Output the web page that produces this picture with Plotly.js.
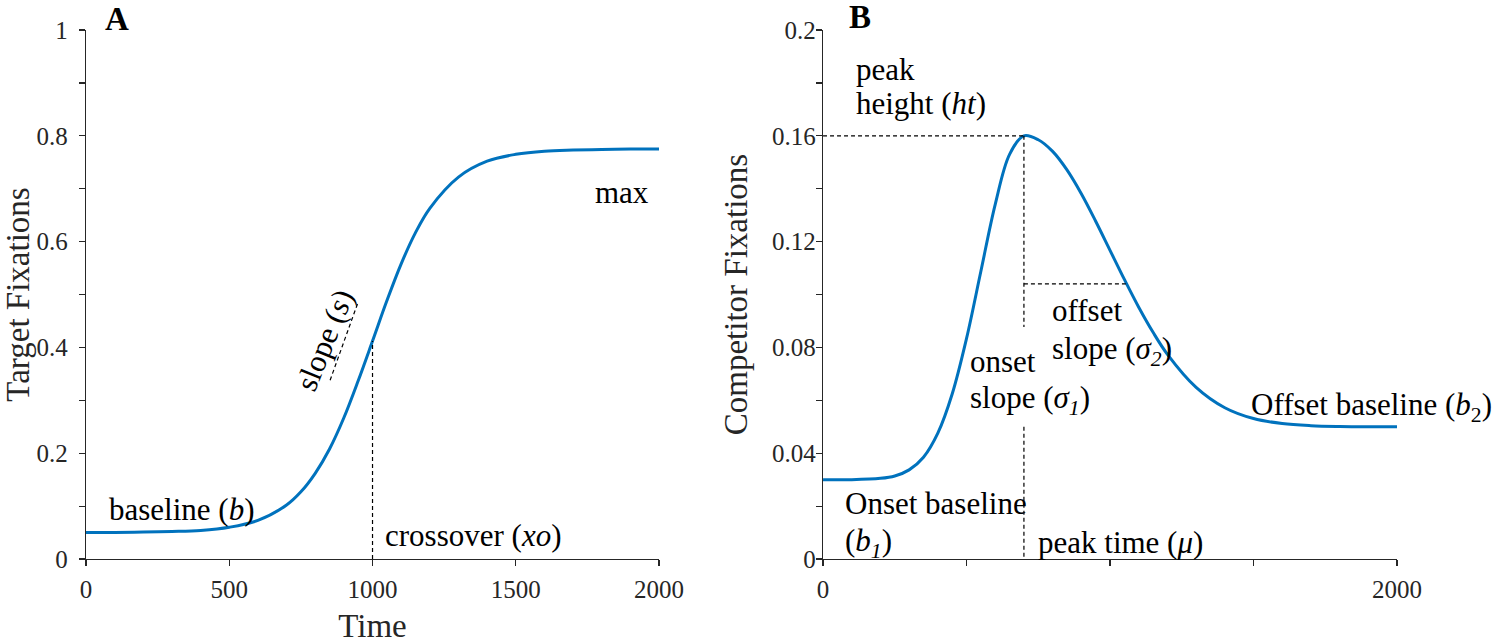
<!DOCTYPE html>
<html>
<head>
<meta charset="utf-8">
<script src="https://cdn.plot.ly/plotly-3.0.1.min.js"></script>
<style>html,body{margin:0;padding:0;background:#fff;}#chart{width:1495px;height:644px;}</style>
</head>
<body>
<div id="chart"></div>
<script>
// Panel A: target fixations (logistic)
var timeA = [0,100,200,300,400,500,600,700,750,800,850,900,950,1000,1050,1100,1150,1200,1300,1400,1500,1600,1700,1800,1900,2000];
var targetFix = [0.050,0.050,0.051,0.052,0.054,0.060,0.073,0.102,0.127,0.162,0.208,0.267,0.337,0.412,0.488,0.558,0.617,0.663,0.722,0.752,0.765,0.771,0.773,0.774,0.775,0.775];

// Panel B: competitor fixations (asymmetric gaussian)
var timeB = [0,100,200,250,300,350,400,450,500,550,600,650,700,750,800,850,900,950,1000,1050,1100,1150,1200,1300,1400,1500,1600,1700,1800,1900,2000];
var compFix = [0.030,0.030,0.0305,0.0314,0.0337,0.0385,0.0476,0.0624,0.0834,0.1088,0.1341,0.153,0.160,0.1585,0.1541,0.1471,0.1381,0.1277,0.1167,0.1057,0.0952,0.0857,0.0774,0.0649,0.0572,0.0531,0.0512,0.0504,0.0501,0.0500,0.0500];

// Reference (dashed) lines
var xoLineX = [1000, 1000], xoLineY = [0, 0.412];
var slopeLineX = [852, 950], slopeLineY = [0.338, 0.486];
var peakHLineX = [0, 700], peakHLineY = [0.16, 0.16];
var peakVLineX = [700, 700, null, 700, 700], peakVLineY = [0.16, 0.0877, null, 0.05, 0];
var offLineX = [700, 1055], offLineY = [0.104, 0.104];

var yTicksA = [0, 0.2, 0.4, 0.6, 0.8, 1];
var yTickTextA = ['0', '0.2', '0.4', '0.6', '0.8', '1'];
var xTicksA = [0, 500, 1000, 1500, 2000];
var xTickTextA = ['0', '500', '1000', '1500', '2000'];
var yTicksB = [0, 0.04, 0.08, 0.12, 0.16, 0.2];
var yTickTextB = ['0', '0.04', '0.08', '0.12', '0.16', '0.2'];
var xTicksB = [0, 2000];
var xTickTextB = ['0', '2000'];
var xMinorB = [500, 1000, 1500];

var blue = '#0072BD';
var ink = '#262626';
var FONT = 'Liberation Serif';
var dashStyle = {color: '#000', width: 1.2, dash: '4px,3px'};

var traces = [
  {x: timeA, y: targetFix, xaxis: 'x', yaxis: 'y', mode: 'lines', line: {color: blue, width: 3, shape: 'spline'}, hoverinfo: 'skip'},
  {x: xoLineX, y: xoLineY, xaxis: 'x', yaxis: 'y', mode: 'lines', line: dashStyle, hoverinfo: 'skip'},
  {x: slopeLineX, y: slopeLineY, xaxis: 'x', yaxis: 'y', mode: 'lines', line: dashStyle, hoverinfo: 'skip'},
  {x: timeB, y: compFix, xaxis: 'x2', yaxis: 'y2', mode: 'lines', line: {color: blue, width: 3, shape: 'spline'}, hoverinfo: 'skip'},
  {x: peakHLineX, y: peakHLineY, xaxis: 'x2', yaxis: 'y2', mode: 'lines', line: dashStyle, hoverinfo: 'skip'},
  {x: peakVLineX, y: peakVLineY, xaxis: 'x2', yaxis: 'y2', mode: 'lines', line: dashStyle, connectgaps: false, hoverinfo: 'skip'},
  {x: offLineX, y: offLineY, xaxis: 'x2', yaxis: 'y2', mode: 'lines', line: dashStyle, hoverinfo: 'skip'}
];

function axisBase() {
  return {
    showgrid: false, zeroline: false, showline: true, linecolor: ink, linewidth: 1.3,
    ticks: 'outside', ticklen: 6, tickwidth: 1.2, tickcolor: ink,
    tickfont: {family: FONT, size: 25, color: ink}, tickmode: 'array', automargin: false, fixedrange: true
  };
}

var xA = Object.assign(axisBase(), {domain: [0, 0.4371], range: [0, 2000], tickvals: xTicksA, ticktext: xTickTextA, anchor: 'y',
  ticklabelstandoff: 2,
  title: {text: 'Time', font: {family: FONT, size: 33, color: ink}, standoff: 13}});
var yA = Object.assign(axisBase(), {domain: [0, 1], range: [0, 1], tickvals: yTicksA, ticktext: yTickTextA, anchor: 'x',
  ticklabelstandoff: 6,
  minor: {tickvals: [0.1, 0.3, 0.5, 0.7, 0.9], ticks: 'outside', ticklen: 6, tickcolor: ink, tickwidth: 1.2},
  title: {text: 'Target Fixations', font: {family: FONT, size: 33, color: ink}, standoff: 22}});
var xB = Object.assign(axisBase(), {domain: [0.5622, 1], range: [0, 2000], tickvals: xTicksB, ticktext: xTickTextB, anchor: 'y2',
  ticklabelstandoff: 2,
  minor: {tickvals: xMinorB, ticks: 'outside', ticklen: 6, tickcolor: ink, tickwidth: 1.2}});
var yB = Object.assign(axisBase(), {domain: [0, 1], range: [0, 0.2], tickvals: yTicksB, ticktext: yTickTextB, anchor: 'x2',
  ticklabelstandoff: -5,
  minor: {tickvals: [0.02, 0.06, 0.1, 0.14, 0.18], ticks: 'outside', ticklen: 6, tickcolor: ink, tickwidth: 1.2},
  title: {text: 'Competitor Fixations', font: {family: FONT, size: 33, color: ink}, standoff: 14}});

var annF = {family: FONT, size: 31, color: '#000'};
function ann(xref, yref, x, y, text, extra) {
  return Object.assign({xref: xref, yref: yref, x: x, y: y, text: text, showarrow: false, xanchor: 'left', yanchor: 'middle', font: annF}, extra || {});
}

var annotations = [
  {xref: 'paper', yref: 'paper', x: 0.013, y: 1.021, text: '<b>A</b>', showarrow: false, xanchor: 'left', yanchor: 'middle', font: {family: FONT, size: 33, color: '#000'}},
  {xref: 'paper', yref: 'paper', x: 0.5805, y: 1.0246, text: '<b>B</b>', showarrow: false, xanchor: 'left', yanchor: 'middle', font: {family: FONT, size: 33, color: '#000'}},
  ann('x', 'y', 73, 0.093, 'baseline (<i>b</i>)'),
  ann('x', 'y', 1037, 0.045, 'crossover (<i>xo</i>)'),
  ann('x', 'y', 1770, 0.692, 'max'),
  ann('x', 'y', 835, 0.414, 'slope (<i>s</i>)', {xanchor: 'center', textangle: -68}),
  ann('x2', 'y2', 107, 0.1849, 'peak'),
  ann('x2', 'y2', 107, 0.1724, 'height (<i>ht</i>)'),
  ann('x2', 'y2', 505, 0.0746, 'onset'),
  ann('x2', 'y2', 505, 0.0601, 'slope (<i>σ<sub>1</sub></i>)'),
  ann('x2', 'y2', 791, 0.0941, 'offset'),
  ann('x2', 'y2', 791, 0.0786, 'slope (<i>σ<sub>2</sub></i>)'),
  ann('x2', 'y2', 69, 0.0208, 'Onset baseline'),
  ann('x2', 'y2', 69, 0.006, '(<i>b<sub>1</sub></i>)'),
  ann('x2', 'y2', 742, 0.0064, 'peak time (<i>μ</i>)'),
  ann('x2', 'y2', 1485, 0.0575, 'Offset baseline (<i>b</i><sub>2</sub>)')
];

var layout = {
  width: 1495, height: 644,
  margin: {l: 86, r: 98, t: 30, b: 85},
  paper_bgcolor: '#fff', plot_bgcolor: '#fff',
  showlegend: false,
  xaxis: xA, yaxis: yA, xaxis2: xB, yaxis2: yB,
  annotations: annotations,
  font: {family: FONT}
};

Plotly.newPlot('chart', traces, layout, {staticPlot: true, displayModeBar: false});
</script>
</body>
</html>
